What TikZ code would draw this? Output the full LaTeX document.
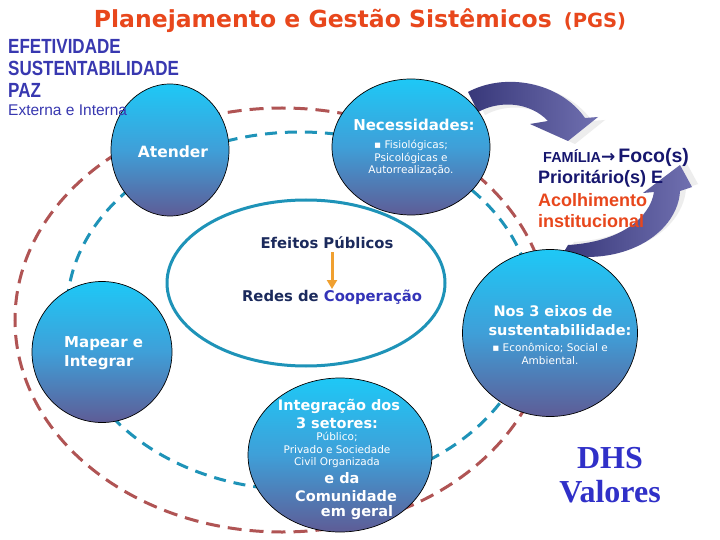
\documentclass[tikz,border=0pt]{standalone}
\usepackage{fontspec}
\setmainfont{DejaVu Sans}
\newfontfamily\verd{DejaVu Sans}
\newfontfamily\arialn[FakeStretch=0.83]{Liberation Sans}
\newfontfamily\arialf{Liberation Sans}
\newfontfamily\timesf{Liberation Serif}
\usetikzlibrary{shapes.geometric,arrows.meta}
\definecolor{titlered}{HTML}{E8471C}
\definecolor{hdrblue}{HTML}{3838B0}
\definecolor{cyanTop}{HTML}{1EC8F6}
\definecolor{slateBot}{HTML}{5E5C96}
\definecolor{midBlue}{HTML}{3F9FD8}
\definecolor{dashred}{HTML}{B05454}
\definecolor{tealc}{HTML}{1E93B8}
\definecolor{navy}{HTML}{1B2A5C}
\definecolor{coopblue}{HTML}{3434B8}
\definecolor{famnavy}{HTML}{16166E}
\definecolor{orangeArr}{HTML}{F0A030}
\definecolor{dhsblue}{HTML}{3030C8}
\definecolor{arrDark}{HTML}{38387A}
\definecolor{arrLight}{HTML}{7070B0}
\newcommand\fsz[2]{\fontsize{#1}{#2}\selectfont}
\begin{document}
\begin{tikzpicture}[x=1pt,y=-1pt,
  bubble/.style={ellipse, draw=black, line width=0.7pt, top color=cyanTop, bottom color=slateBot, middle color=midBlue, inner sep=0pt},
  wbig/.style={text=white, inner sep=0pt, align=center, font=\verd\bfseries\fsz{14.5}{18}},
  wsmall/.style={text=white, inner sep=0pt, align=center, font=\verd\fsz{10.5}{12.5}},
  hdr/.style={text=hdrblue, anchor=west, inner sep=0pt, font=\arialn\bfseries\fsz{20.5}{22}},
  fam/.style={anchor=west, inner sep=0pt, font=\arialf\bfseries\fsz{18}{21}},
  ctr/.style={inner sep=0pt, text=navy, font=\verd\bfseries\fsz{14.8}{17}},
  redd/.style={draw=dashred, line width=3pt, dash pattern=on 14pt off 8pt},
  teald/.style={draw=tealc, line width=3pt, dash pattern=on 12pt off 8pt},
  arrowshade/.style={left color=arrDark, right color=arrLight}
]
\useasboundingbox (0,0) rectangle (720,540);
\fill[white] (0,0) rectangle (720,540);

% dashed rings and central ellipse
\draw[redd] (282,320) ellipse [x radius=267, y radius=212];
\draw[teald] (300,311) ellipse [x radius=233, y radius=179];
\draw[tealc, line width=3pt] (306,283) ellipse [x radius=139, y radius=83];

% curved arrows (shadow then body)
\fill[gray!14, shift={(7,3)}] (468,92) .. controls (505,72) and (560,82) .. (585,118) -- (598,117) -- (568,141) -- (530,124) -- (548,121) .. controls (530,102) and (500,100) .. (478,112) -- cycle;
\shade[arrowshade] (468,92) .. controls (505,72) and (560,82) .. (585,118) -- (598,117) -- (568,141) -- (530,124) -- (548,121) .. controls (530,102) and (500,100) .. (478,112) -- cycle;
\fill[gray!14, shift={(6,-3)}] (568,245) .. controls (620,242) and (650,218) .. (654,192) -- (643,193) -- (680,165) -- (692,187) -- (680,191) .. controls (678,230) and (630,266) .. (562,255) -- cycle;
\shade[arrowshade] (568,245) .. controls (620,242) and (650,218) .. (654,192) -- (643,193) -- (680,165) -- (692,187) -- (680,191) .. controls (678,230) and (630,266) .. (562,255) -- cycle;

% circles
\node[bubble, minimum width=118pt, minimum height=132pt] (atender) at (170,150) {};
\node[bubble, minimum width=158pt, minimum height=136pt] (neces) at (411,147) {};
\node[bubble, minimum width=140pt, minimum height=141pt] (mapear) at (102,352) {};
\node[bubble, minimum width=175pt, minimum height=167pt] (eixos) at (550,333) {};
\node[bubble, minimum width=184pt, minimum height=154pt] (integ) at (340,455) {};

% title and header
\node[inner sep=0pt, text=titlered, font=\verd\bfseries] (title) at (360,21)
  {\fsz{23.5}{25}Planejamento e Gestão Sistêmicos\hspace{12pt}\fsz{19.5}{25}(PGS)};
\node[hdr] (efet) at (8,46) {EFETIVIDADE};
\node[hdr] (sust) at (8,68) {SUSTENTABILIDADE};
\node[hdr] (paz) at (8,90) {PAZ};
\node[anchor=west, inner sep=0pt, text=hdrblue, font=\arialf\fsz{15.5}{18}] (ext) at (8,110) {Externa e Interna};

% circle texts
\node[wbig, font=\verd\bfseries\fsz{15.5}{18}] (tat) at (173,152) {Atender};
\node[wbig, font=\verd\bfseries\fsz{15}{18}] (tnec) at (414,125) {Necessidades:};
\node[wsmall] (tnec2) at (411,158) {▪ Fisiológicas;\\Psicológicas e\\Autorrealização.};
\node[wbig, anchor=west, align=left, font=\verd\bfseries\fsz{15}{19}] (tmap) at (64,353) {Mapear e\\Integrar};
\node[wbig] (teix1) at (553,311) {Nos 3 eixos de};
\node[wbig] (teix2) at (560,330) {sustentabilidade:};
\node[wsmall] (teix3) at (550,354) {▪ Econômico; Social e\\Ambiental.};
\node[wbig] (tint1) at (339,406) {Integração dos};
\node[wbig] (tint2) at (337,423) {3 setores:};
\node[wsmall] (tint3) at (337,450) {Público;\\Privado e Sociedade\\Civil Organizada};
\node[wbig] (tint4) at (342,478) {e da};
\node[wbig] (tint5) at (346,496) {Comunidade};
\node[wbig] (tint6) at (357,513) {em geral};

% central ellipse texts
\node[ctr] (efe) at (327,243) {Efeitos Públicos};
\node[ctr] (redes) at (332,297) {Redes de \textcolor{coopblue}{Cooperação}};
\coordinate (oa1) at (332,252);
\coordinate (oa2) at (332,289);
\draw[orangeArr, line width=3pt, -{Triangle[length=9pt,width=10pt]}] (oa1) -- (oa2);

% right side text
\node[fam, text=famnavy] (fam1) at (543,157) {{\fsz{14.5}{21}FAMÍLIA}{\verd\fsz{17}{21}→}\,{\fsz{19.5}{21}Foco(s)}};
\node[fam, text=famnavy] (fam2) at (538,179) {Prioritário(s) E};
\node[fam, text=titlered] (fam3) at (538,200) {Acolhimento};
\node[fam, text=titlered] (fam4) at (538,221) {institucional};

\node[inner sep=0pt, text=dhsblue, font=\timesf\bfseries\fsz{32}{34}] (dhs) at (610,458) {DHS};
\node[inner sep=0pt, text=dhsblue, font=\timesf\bfseries\fsz{32}{34}] (val) at (610,492) {Valores};
\end{tikzpicture}
\end{document}
